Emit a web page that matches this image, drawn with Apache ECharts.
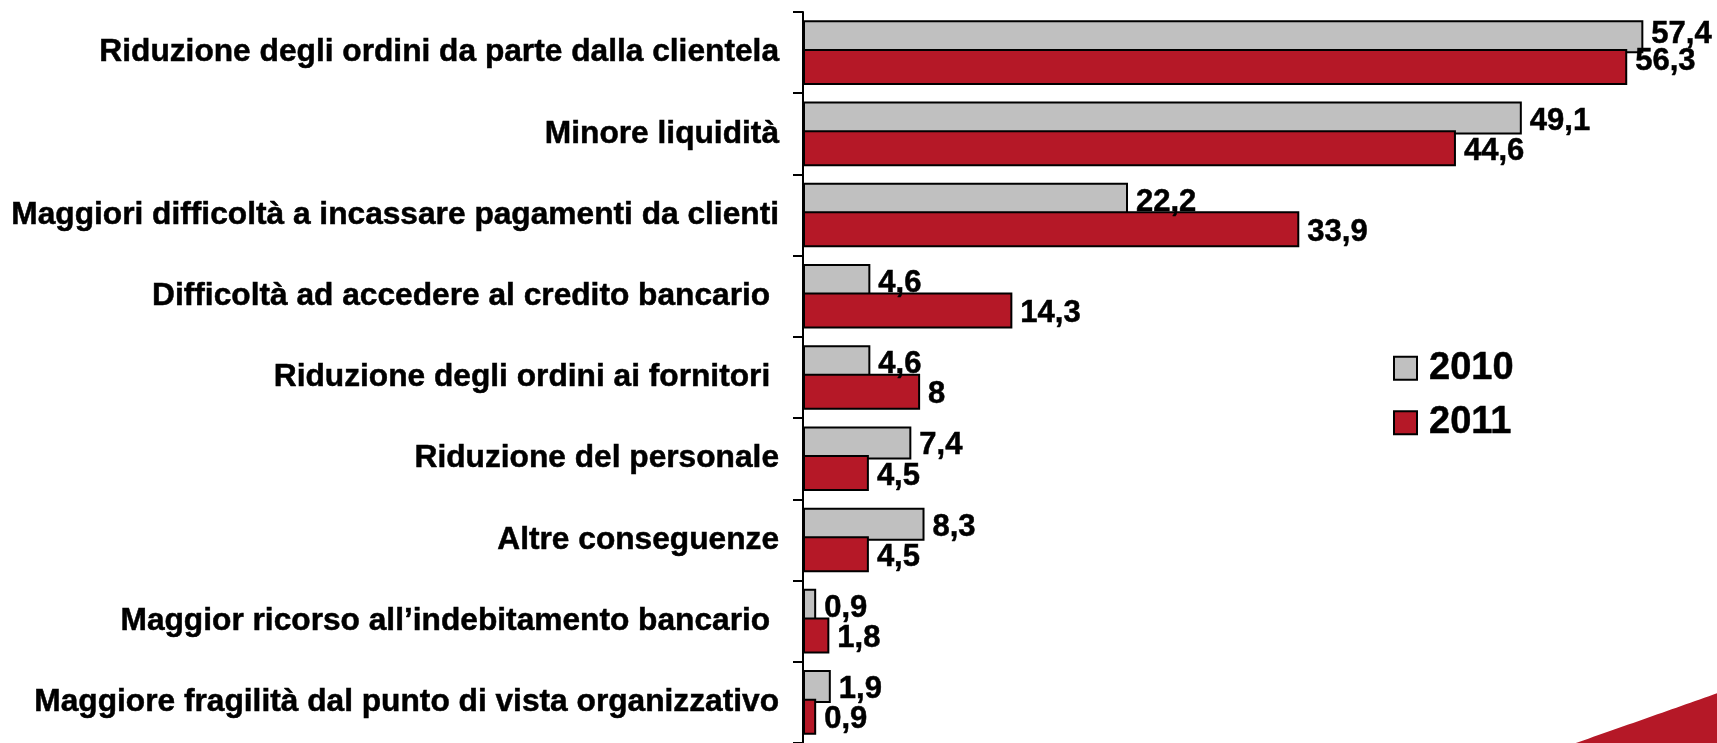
<!DOCTYPE html>
<html>
<head>
<meta charset="utf-8">
<script src="https://cdn.jsdelivr.net/npm/echarts@6/dist/echarts.min.js"></script>
<style>
html,body{margin:0;padding:0;background:#fff;}
#c{width:1717px;height:743px;}
</style>
</head>
<body>
<div id="c"></div>
<script>
const categories = [
  "Riduzione degli ordini da parte dalla clientela",
  "Minore liquidità",
  "Maggiori difficoltà a incassare pagamenti da clienti",
  "Difficoltà ad accedere al credito bancario ",
  "Riduzione degli ordini ai fornitori ",
  "Riduzione del personale",
  "Altre conseguenze",
  "Maggior ricorso all’indebitamento bancario ",
  "Maggiore fragilità dal punto di vista organizzativo"
];
const seriesNames = ["2010", "2011"];
const values2010 = [57.4, 49.1, 22.2, 4.6, 4.6, 7.4, 8.3, 0.9, 1.9];
const values2011 = [56.3, 44.6, 33.9, 14.3, 8, 4.5, 4.5, 1.8, 0.9];

const FONT = "'Liberation Sans', Arial, sans-serif";
const fmt = p => String(p.value).replace('.', ',');

// first row labels sit a bit higher in the original
function withOffsets(vals, firstOffset) {
  return vals.map((v, i) => i === 0 ? {value: v, label: {offset: [0, firstOffset]}} : v);
}

const chart = echarts.init(document.getElementById('c'), null, {renderer: 'canvas'});

// decorative swoosh bottom-right
const swoosh = [];
for (let i = 0; i <= 30; i++) {
  const t = i / 30;
  const x0 = 1573, y0 = 744, cx = 1650, cy = 717, x1 = 1718, y1 = 693;
  swoosh.push([
    (1 - t) * (1 - t) * x0 + 2 * (1 - t) * t * cx + t * t * x1,
    (1 - t) * (1 - t) * y0 + 2 * (1 - t) * t * cy + t * t * y1
  ]);
}
swoosh.push([1718, 744]);

const valueLabel = {
  show: true, position: 'right', distance: 8, offset: [0, 3], formatter: fmt,
  fontFamily: FONT, fontWeight: 'bold', fontSize: 31, color: '#000',
  textBorderColor: '#000', textBorderWidth: 0.5
};

chart.setOption({
  animation: false,
  backgroundColor: '#ffffff',
  grid: {left: 803, top: 12, right: 35.6, bottom: -4.5, containLabel: false},
  legend: {
    orient: 'vertical',
    left: 1388,
    top: 344,
    itemWidth: 23,
    itemHeight: 23,
    itemGap: 16,
    icon: 'rect',
    data: seriesNames,
    textStyle: {fontFamily: FONT, fontWeight: 'bold', fontSize: 38, color: '#000', lineHeight: 38,
                padding: [0, 0, 0, 7], textBorderColor: '#000', textBorderWidth: 0.5}
  },
  xAxis: {
    type: 'value', min: 0, max: 60,
    show: false,
    splitLine: {show: false}
  },
  yAxis: {
    type: 'category',
    data: categories,
    inverse: true,
    axisLine: {show: true, lineStyle: {color: '#000', width: 2}},
    axisTick: {show: true, length: 10, lineStyle: {color: '#000', width: 2}},
    axisLabel: {fontFamily: FONT, fontWeight: 'bold', fontSize: 31.7, color: '#000', margin: 24,
                padding: [5, 0, 0, 0], textBorderColor: '#000', textBorderWidth: 0.5}
  },
  series: [
    {
      name: seriesNames[0],
      type: 'bar',
      data: withOffsets(values2010, -2),
      barWidth: 33,
      barGap: '-13.3%',
      itemStyle: {color: '#C0C0C0', borderColor: '#000', borderWidth: 2},
      label: valueLabel
    },
    {
      name: seriesNames[1],
      type: 'bar',
      data: withOffsets(values2011, -5),
      barWidth: 36,
      barGap: '-13.3%',
      itemStyle: {color: '#B51827', borderColor: '#000', borderWidth: 2},
      label: valueLabel
    }
  ],
  graphic: [{
    type: 'polygon',
    silent: true,
    z: -1,
    shape: {points: swoosh},
    style: {fill: '#B51827'}
  }]
});
</script>
</body>
</html>
